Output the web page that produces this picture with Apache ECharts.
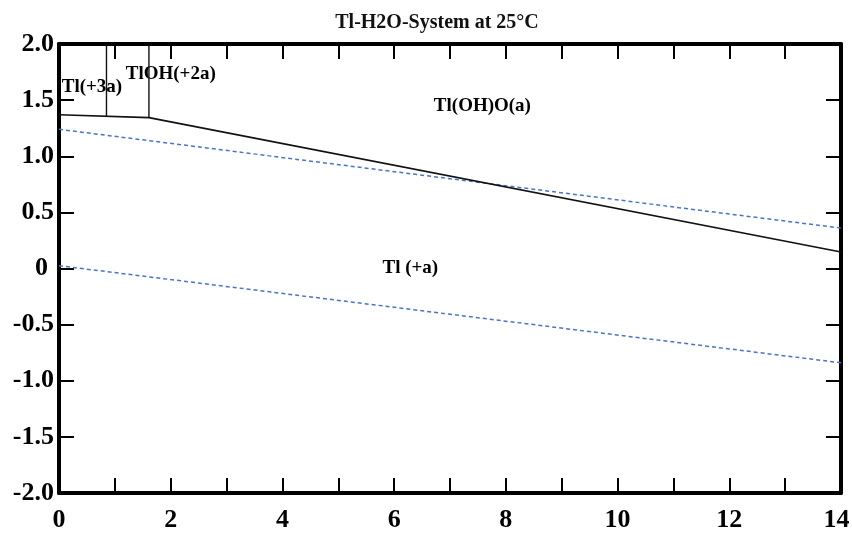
<!DOCTYPE html>
<html>
<head>
<meta charset="utf-8">
<script src="https://cdn.jsdelivr.net/npm/echarts@6/dist/echarts.min.js"></script>
<style>
  html, body { margin: 0; padding: 0; background: #fff; }
  #chart { width: 852px; height: 534px; }
</style>
</head>
<body>
<div id="chart"></div>
<script>
// Tl–H2O Pourbaix diagram, 25 °C: potential E (V) versus pH

const titleText = 'Tl-H2O-System at 25°C';

// pH tick values (labels every 2 units, ticks every unit)
const xTicks = [0, 2, 4, 6, 8, 10, 12, 14];
// E tick values
const yTicks = [-2.0, -1.5, -1.0, -0.5, 0, 0.5, 1.0, 1.5, 2.0];

// Main stability boundary (Tl(III) species / Tl(+a))
const boundaryPH = [0, 1.61, 14];
const boundaryE = [1.37, 1.344, 0.147];

// Vertical boundary Tl(+3a) | TlOH(+2a)
const edge1PH = [0.85, 0.85];
const edge1E = [1.356, 2.0];

// Vertical boundary TlOH(+2a) | Tl(OH)O(a)
const edge2PH = [1.61, 1.61];
const edge2E = [1.344, 2.0];

// Water stability limits (dashed)
const o2LinePH = [0, 14];
const o2LineE = [1.24, 0.36];
const h2LinePH = [0, 14];
const h2LineE = [0.025, -0.84];

// Region names and their anchor points (pH, E)
const regionNames = ['Tl(+3a)', 'TlOH(+2a)', 'Tl(OH)O(a)', 'Tl (+a)'];
const regionPH = [0.59, 2.0, 7.58, 6.29];
const regionE = [1.62, 1.73, 1.45, 0.0];

const zip = (xs, ys) => xs.map((x, i) => [x, ys[i]]);

const serif = 'Liberation Serif';
const axisLine = { show: true, onZero: false, lineStyle: { color: '#000', width: 4 } };
const inTick = { show: true, inside: true, length: 15, lineStyle: { color: '#000', width: 2 } };
const tickFont = { fontFamily: serif, fontWeight: 'bold', fontSize: 26, color: '#000' };

const chart = echarts.init(document.getElementById('chart'), null, { renderer: 'canvas' });

chart.setOption({
  animation: false,
  backgroundColor: '#fff',
  title: {
    text: titleText,
    left: 432,
    top: 8,
    textAlign: 'center',
    textStyle: { fontFamily: serif, fontWeight: 'bold', fontSize: 20, color: '#111' }
  },
  grid: { left: 59, right: 11, top: 44, bottom: 41, containLabel: false, outerBoundsMode: 'none' },
  xAxis: [
    {
      type: 'value', min: 0, max: 14, interval: 1, position: 'bottom',
      axisLine: axisLine, axisTick: inTick, splitLine: { show: false },
      axisLabel: Object.assign({
        margin: 14,
        formatter: v => {
          if (xTicks.indexOf(v) < 0) return '';
          return v === 14 ? '{e|14}' : String(v);
        },
        rich: { e: Object.assign({ padding: [0, 9, 0, 0] }, tickFont) }
      }, tickFont)
    },
    {
      type: 'value', min: 0, max: 14, interval: 1, position: 'top',
      axisLine: axisLine, axisTick: inTick, splitLine: { show: false },
      axisLabel: { show: false }
    }
  ],
  yAxis: [
    {
      type: 'value', min: -2, max: 2, interval: 0.5, position: 'left',
      axisLine: axisLine, axisTick: inTick, splitLine: { show: false },
      axisLabel: Object.assign({
        margin: 5,
        formatter: v => (yTicks.indexOf(v) >= 0 ? (v === 0 ? '{z|0}' : v.toFixed(1)) : ''),
        rich: { z: Object.assign({ padding: [0, 6, 0, 0] }, tickFont) }
      }, tickFont)
    },
    {
      type: 'value', min: -2, max: 2, interval: 0.5, position: 'right',
      axisLine: axisLine, axisTick: inTick, splitLine: { show: false },
      axisLabel: { show: false }
    }
  ],
  series: [
    {
      type: 'line', data: zip(o2LinePH, o2LineE), symbol: 'none',
      lineStyle: { color: '#4a74c8', width: 1.5, type: [4, 3] }
    },
    {
      type: 'line', data: zip(h2LinePH, h2LineE), symbol: 'none',
      lineStyle: { color: '#4a74c8', width: 1.5, type: [4, 3] }
    },
    {
      type: 'line', data: zip(boundaryPH, boundaryE), symbol: 'none',
      lineStyle: { color: '#111', width: 1.6 }
    },
    {
      type: 'line', data: zip(edge1PH, edge1E), symbol: 'none',
      lineStyle: { color: '#111', width: 1.4 }
    },
    {
      type: 'line', data: zip(edge2PH, edge2E), symbol: 'none',
      lineStyle: { color: '#111', width: 1.4 }
    },
    {
      type: 'scatter', symbolSize: 0, silent: true,
      itemStyle: { opacity: 1 },
      data: regionNames.map((n, i) => ({ name: n, value: [regionPH[i], regionE[i]] })),
      label: {
        show: true, position: 'inside', formatter: p => p.name, opacity: 1,
        color: '#000', fontFamily: serif, fontWeight: 'bold', fontSize: 19
      }
    }
  ]
});
</script>
</body>
</html>
